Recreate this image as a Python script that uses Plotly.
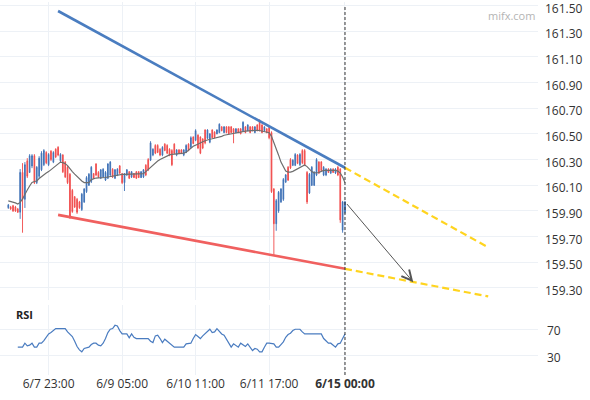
import plotly.graph_objects as go

# hourly candles, oldest first (index = bar number)
open_ = [
    159.925, 159.930, 159.940, 159.930, 159.915, 159.890, 160.200, 159.990, 160.290, 160.200,
    160.250, 160.330, 160.120, 160.170, 160.220, 160.260, 160.355, 160.260, 160.365, 160.280,
    160.380, 160.395, 160.290, 160.335, 160.280, 160.240, 160.185, 160.060, 160.010, 159.990,
    159.970, 159.910, 159.970, 160.050, 160.100, 160.130, 160.190, 160.265, 160.200, 160.155,
    160.165, 160.140, 160.155, 160.180, 160.225, 160.155, 160.180, 160.250, 160.190, 160.120,
    160.180, 160.205, 160.165, 160.190, 160.205, 160.205, 160.160, 160.165, 160.255, 160.300,
    160.295, 160.335, 160.410, 160.410, 160.380, 160.335, 160.420, 160.410, 160.380, 160.370,
    160.420, 160.335, 160.375, 160.375, 160.335, 160.355, 160.420, 160.395, 160.475, 160.450,
    160.490, 160.475, 160.460, 160.530, 160.465, 160.435, 160.530, 160.515, 160.500, 160.510,
    160.555, 160.510, 160.555, 160.555, 160.555, 160.540, 160.510, 160.540, 160.540, 160.525,
    160.555, 160.525, 160.555, 160.555, 160.510, 160.570, 160.600, 160.570, 160.525, 160.540,
    160.550, 160.510, 160.070, 159.800, 159.900, 159.970, 159.990, 160.125, 160.240, 160.300,
    160.255, 160.255, 160.335, 160.260, 160.370, 160.370, 160.200, 160.040, 160.100, 160.100,
    160.180, 160.280, 160.280, 160.180, 160.180, 160.225, 160.195, 160.225, 160.195, 160.240,
    160.225, 159.750, 159.890,
]
high = [
    159.954, 159.939, 159.947, 159.939, 159.923, 160.226, 160.272, 160.280, 160.311, 160.342,
    160.342, 160.342, 160.249, 160.326, 160.365, 160.381, 160.365, 160.350, 160.373, 160.365,
    160.388, 160.404, 160.350, 160.342, 160.288, 160.249, 160.195, 160.071, 160.016, 160.001,
    159.978, 160.040, 160.078, 160.171, 160.195, 160.249, 160.195, 160.272, 160.210, 160.226,
    160.233, 160.210, 160.272, 160.288, 160.233, 160.226, 160.233, 160.257, 160.195, 160.195,
    160.226, 160.210, 160.210, 160.195, 160.210, 160.210, 160.210, 160.226, 160.264, 160.311,
    160.443, 160.388, 160.419, 160.419, 160.388, 160.404, 160.427, 160.419, 160.388, 160.381,
    160.427, 160.381, 160.381, 160.381, 160.381, 160.419, 160.427, 160.481, 160.481, 160.536,
    160.497, 160.481, 160.466, 160.536, 160.536, 160.505, 160.536, 160.520, 160.536, 160.582,
    160.559, 160.559, 160.559, 160.559, 160.559, 160.543, 160.543, 160.543, 160.543, 160.598,
    160.559, 160.574, 160.559, 160.559, 160.559, 160.574, 160.613, 160.574, 160.559, 160.543,
    160.559, 160.520, 160.078, 159.993, 160.055, 160.078, 160.156, 160.187, 160.249, 160.311,
    160.303, 160.350, 160.342, 160.350, 160.381, 160.381, 160.210, 160.195, 160.249, 160.210,
    160.311, 160.288, 160.288, 160.249, 160.233, 160.233, 160.233, 160.233, 160.233, 160.249,
    160.233, 159.978, 159.978,
]
low = [
    159.916, 159.908, 159.892, 159.892, 159.885, 159.838, 159.730, 159.923, 160.156, 160.195,
    160.233, 160.109, 160.109, 160.156, 160.210, 160.249, 160.264, 160.249, 160.288, 160.272,
    160.311, 160.326, 160.280, 160.195, 160.156, 160.109, 159.838, 159.885, 159.923, 159.877,
    159.916, 159.900, 159.962, 160.040, 160.094, 160.117, 160.148, 160.171, 160.156, 160.148,
    160.156, 160.133, 160.148, 160.171, 160.156, 160.148, 160.171, 160.187, 160.109, 160.055,
    160.171, 160.148, 160.156, 160.156, 160.148, 160.156, 160.156, 160.156, 160.171, 160.210,
    160.288, 160.326, 160.342, 160.350, 160.326, 160.326, 160.365, 160.342, 160.326, 160.249,
    160.342, 160.326, 160.342, 160.342, 160.326, 160.350, 160.365, 160.388, 160.419, 160.443,
    160.381, 160.342, 160.381, 160.419, 160.458, 160.427, 160.466, 160.466, 160.497, 160.505,
    160.520, 160.505, 160.505, 160.497, 160.505, 160.427, 160.505, 160.505, 160.497, 160.520,
    160.505, 160.520, 160.505, 160.520, 160.505, 160.520, 160.520, 160.505, 160.520, 160.505,
    160.458, 160.040, 159.552, 159.745, 159.885, 159.962, 159.978, 160.117, 160.133, 160.226,
    160.249, 160.249, 160.264, 160.249, 160.264, 160.249, 159.954, 160.032, 160.094, 160.094,
    160.171, 160.187, 160.210, 160.171, 160.171, 160.195, 160.187, 160.195, 160.187, 160.171,
    159.807, 159.730, 159.877,
]
close = [
    159.945, 159.915, 159.900, 159.900, 159.890, 160.200, 159.990, 160.260, 160.170, 160.330,
    160.330, 160.120, 160.240, 160.310, 160.350, 160.370, 160.275, 160.340, 160.300, 160.355,
    160.320, 160.335, 160.340, 160.205, 160.165, 160.120, 159.860, 159.895, 159.930, 159.890,
    159.925, 160.030, 160.070, 160.160, 160.185, 160.240, 160.155, 160.180, 160.165, 160.220,
    160.225, 160.200, 160.265, 160.280, 160.165, 160.220, 160.225, 160.195, 160.120, 160.190,
    160.220, 160.155, 160.205, 160.160, 160.155, 160.160, 160.205, 160.220, 160.180, 160.220,
    160.430, 160.380, 160.350, 160.355, 160.335, 160.395, 160.370, 160.350, 160.335, 160.260,
    160.350, 160.375, 160.350, 160.350, 160.375, 160.410, 160.370, 160.470, 160.425, 160.525,
    160.390, 160.350, 160.390, 160.430, 160.530, 160.500, 160.470, 160.470, 160.530, 160.575,
    160.525, 160.555, 160.510, 160.500, 160.510, 160.510, 160.540, 160.510, 160.500, 160.590,
    160.510, 160.570, 160.510, 160.525, 160.555, 160.525, 160.525, 160.510, 160.555, 160.510,
    160.470, 160.050, 159.800, 159.980, 160.045, 160.070, 160.145, 160.180, 160.140, 160.235,
    160.295, 160.340, 160.270, 160.340, 160.275, 160.260, 159.970, 160.185, 160.240, 160.200,
    160.300, 160.195, 160.215, 160.240, 160.225, 160.200, 160.225, 160.200, 160.225, 160.180,
    159.830, 159.970, 159.970,
]
# moving average line as drawn on the chart
ma = [
    159.978, 159.974, 159.970, 159.962, 159.954, 159.966, 159.993, 160.032, 160.063, 160.094,
    160.121, 160.129, 160.133, 160.152, 160.168, 160.183, 160.195, 160.206, 160.222, 160.236,
    160.253, 160.268, 160.280, 160.276, 160.268, 160.253, 160.226, 160.206, 160.187, 160.168,
    160.148, 160.133, 160.121, 160.119, 160.121, 160.144, 160.152, 160.156, 160.158, 160.158,
    160.158, 160.160, 160.164, 160.168, 160.170, 160.171, 160.175, 160.181, 160.185, 160.185,
    160.185, 160.185, 160.185, 160.185, 160.187, 160.187, 160.189, 160.190, 160.206, 160.223,
    160.241, 160.260, 160.276, 160.288, 160.301, 160.311, 160.320, 160.330, 160.336, 160.340,
    160.342, 160.343, 160.344, 160.346, 160.350, 160.357, 160.373, 160.388, 160.404, 160.412,
    160.423, 160.431, 160.439, 160.446, 160.454, 160.458, 160.462, 160.466, 160.470, 160.475,
    160.481, 160.489, 160.493, 160.497, 160.502, 160.506, 160.510, 160.512, 160.516, 160.520,
    160.522, 160.523, 160.525, 160.526, 160.528, 160.528, 160.526, 160.522, 160.520, 160.518,
    160.509, 160.481, 160.435, 160.385, 160.334, 160.280, 160.241, 160.210, 160.202, 160.202,
    160.208, 160.218, 160.230, 160.241, 160.253, 160.257, 160.245, 160.226, 160.206, 160.197,
    160.197, 160.199, 160.208, 160.216, 160.216, 160.216, 160.216, 160.216, 160.216, 160.210,
    160.195, 160.164, 160.119,
]
# RSI, ends on the last bar
rsi = [
    43, 43, 43, 49, 45, 46, 49, 43, 43, 49, 49, 53, 58, 63, 65, 68, 71, 71, 71, 71,
    71, 66, 63, 59, 52, 44, 39, 36, 41, 42, 43, 47, 49, 49, 46, 45, 49, 56, 65, 70,
    71, 76, 75, 68, 63, 63, 63, 57, 63, 58, 56, 56, 56, 56, 56, 56, 52, 50, 60, 61,
    56, 50, 55, 52, 49, 46, 43, 43, 43, 43, 43, 48, 49, 49, 56, 62, 59, 56, 60, 63,
    66, 70, 65, 66, 71, 67, 63, 61, 55, 48, 43, 48, 46, 43, 49, 46, 44, 48, 43, 38,
    41, 40, 36, 36, 43, 49, 49, 49, 48, 43, 43, 47, 51, 58, 62, 64, 68, 70, 70, 70,
    66, 63, 63, 63, 63, 63, 63, 63, 63, 56, 53, 49, 49, 46, 43, 48, 49, 56, 63,
]

tick_bars = [17, 48, 79, 110, 142]
tick_labels = ["6/7 23:00", "6/9 05:00", "6/10 11:00", "6/11 17:00", "<b>6/15 00:00</b>"]
price_ticks = [159.3, 159.5, 159.7, 159.9, 160.1, 160.3, 160.5, 160.7, 160.9, 161.1, 161.3, 161.5]
rsi_ticks = [30, 70]

# drawn channel and projection (bar, price)
upper_x, upper_y = [21, 142], [161.457, 160.236]
lower_x, lower_y = [21, 142], [159.869, 159.449]
proj_upper_x, proj_upper_y = [142, 202.4], [160.236, 159.616]
proj_lower_x, proj_lower_y = [142, 202.4], [159.449, 159.234]
target_from = (142.3, 159.965)
target_to = (170.8, 159.345)
now_bar = 142

bars = list(range(len(close)))
rsi_bars = list(range(len(close) - len(rsi), len(close)))
ma_bars = list(range(len(ma)))

UP = "#3d70b5"
DOWN = "#f04b4b"
GRID = "#edf1f6"

fig = go.Figure()
fig.add_trace(go.Candlestick(
    x=bars, open=open_, high=high, low=low, close=close,
    whiskerwidth=0,
    increasing=dict(line=dict(color=UP, width=0.9), fillcolor=UP),
    decreasing=dict(line=dict(color=DOWN, width=0.9), fillcolor=DOWN),
    xaxis="x", yaxis="y",
))
fig.add_trace(go.Scatter(x=ma_bars, y=ma, mode="lines",
                         line=dict(color="#6e6e6e", width=1.2), yaxis="y"))
fig.add_trace(go.Scatter(x=upper_x, y=upper_y, mode="lines",
                         line=dict(color="#4a7dc0", width=2.6), yaxis="y"))
fig.add_trace(go.Scatter(x=lower_x, y=lower_y, mode="lines",
                         line=dict(color="#f0605f", width=2.6), yaxis="y"))
for px_, py_ in [(proj_upper_x, proj_upper_y), (proj_lower_x, proj_lower_y)]:
    fig.add_trace(go.Scatter(x=px_, y=py_, mode="lines",
                             line=dict(color="#ffd41f", width=2.2, dash="7px,4px"), yaxis="y"))
fig.add_trace(go.Scatter(x=rsi_bars, y=rsi, mode="lines",
                         line=dict(color="#4a7cc0", width=1.2), yaxis="y2"))

fig.add_shape(type="line", xref="x", yref="paper", x0=now_bar, x1=now_bar, y0=0, y1=0.987,
              line=dict(color="#333333", width=1, dash="3px,2px"))

fig.add_annotation(x=target_to[0], y=target_to[1], ax=target_from[0], ay=target_from[1],
                   xref="x", yref="y", axref="x", ayref="y", text="", showarrow=True,
                   arrowhead=5, arrowsize=2, arrowwidth=1, arrowcolor="#555555", standoff=0)
fig.add_annotation(x=0.026, y=0.1627, xref="paper", yref="paper", text="<b>RSI</b>",
                   showarrow=False, xanchor="left", yanchor="middle",
                   font=dict(size=11, color="#222222"))
fig.add_annotation(x=0.998, y=0.965, xref="paper", yref="paper", text="mifx.com",
                   showarrow=False, xanchor="right", yanchor="middle",
                   font=dict(size=11, color="#b4b4b4"))

fig.update_layout(
    width=590, height=400,
    margin=dict(l=0, r=52, t=0, b=25),
    paper_bgcolor="white", plot_bgcolor="white",
    showlegend=False,
    boxgap=0.55,
    font=dict(family="Open Sans", size=12, color="#333333"),
    xaxis=dict(
        range=[-3.5, 223.4], anchor="y2",
        tickvals=tick_bars, ticktext=tick_labels,
        showgrid=True, gridcolor=GRID, zeroline=False, ticks="",
        rangeslider=dict(visible=False), fixedrange=True,
    ),
    yaxis=dict(
        domain=[0.2, 1], range=[159.203, 161.527], side="right", anchor="x",
        tickvals=price_ticks, tickformat=".2f",
        showgrid=True, gridcolor=GRID, zeroline=False, ticks="",
        ticklabelstandoff=6, ticklabelshift=3, ticklabeloverflow="allow",
    ),
    yaxis2=dict(
        domain=[0, 0.1867], range=[1.1, 106], side="right", anchor="x",
        tickvals=rsi_ticks, showgrid=True, gridcolor=GRID, zeroline=False, ticks="",
        ticklabelstandoff=8, ticklabelshift=2,
    ),
)

# the page body has a default 8px margin; drop it so the chart sits at 0,0
fig.write_html("out.html", config={"displayModeBar": False},
               post_script="document.body.style.margin='0';")
